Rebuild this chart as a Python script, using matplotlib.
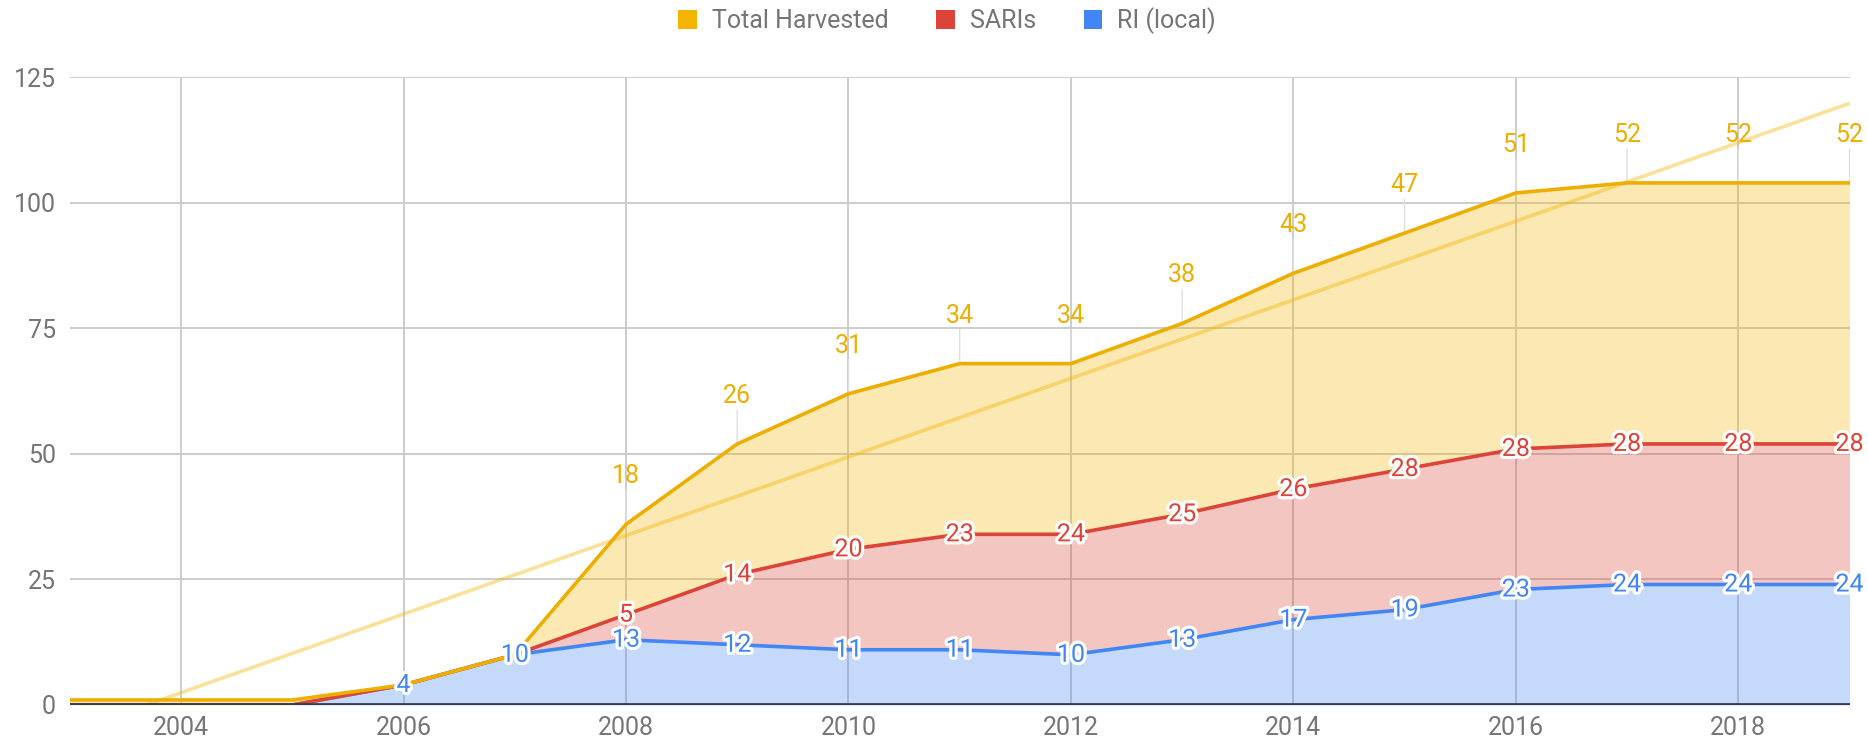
import numpy as np
import matplotlib
matplotlib.use("Agg")
import matplotlib.pyplot as plt
import matplotlib.patheffects as pe
from matplotlib.patches import Patch

plt.rcParams['font.family'] = ['Roboto', 'DejaVu Sans']

years = [2003, 2004, 2005, 2006, 2007, 2008, 2009, 2010, 2011, 2012,
         2013, 2014, 2015, 2016, 2017, 2018, 2019]
ri_local = [0, 0, 0, 4, 10, 13, 12, 11, 11, 10, 13, 17, 19, 23, 24, 24, 24]
saris = [0, 0, 0, 0, 0, 5, 14, 20, 23, 24, 25, 26, 28, 28, 28, 28, 28]
total_harvested = [1, 1, 1, 0, 0, 18, 26, 31, 34, 34, 38, 43, 47, 51, 52, 52, 52]
# which points carry a data label
ri_label_from = 2006
saris_label_from = 2008
total_label_from = 2008

series_names = ["Total Harvested", "SARIs", "RI (local)"]
x_ticks = [2004, 2006, 2008, 2010, 2012, 2014, 2016, 2018]
y_ticks = [0, 25, 50, 75, 100, 125]

BLUE = "#4285F4"
RED = "#DB4437"
YELLOW = "#F4B400"
YELLOW_LINE = "#EDAE00"
GRAY_TXT = "#757575"
FS = 18

x = np.array(years, dtype=float)
b = np.array(ri_local, dtype=float)
r = b + np.array(saris, dtype=float)
t = r + np.array(total_harvested, dtype=float)

fig = plt.figure(figsize=(18.68, 7.45), dpi=100)
ax = fig.add_axes([0.0374, 0.0537, 0.9527, 0.8423])
ax.set_xlim(2003, 2019)
ax.set_ylim(0, 125)

for s in ax.spines.values():
    s.set_visible(False)
ax.set_xticks(x_ticks)
ax.set_xticklabels([str(v) for v in x_ticks])
ax.set_yticks(y_ticks)
ax.tick_params(length=0, labelsize=FS, colors=GRAY_TXT)
ax.tick_params(axis='x', pad=8)
ax.tick_params(axis='y', pad=10)
ax.grid(True, color="#cccccc", linewidth=1.4, zorder=0)
ax.set_axisbelow(True)

# areas
ax.fill_between(x, 0, b, color=BLUE, alpha=0.3, linewidth=0, zorder=1)
ax.fill_between(x, b, r, color=RED, alpha=0.3, linewidth=0, zorder=1)
ax.fill_between(x, r, t, color=YELLOW, alpha=0.3, linewidth=0, zorder=1)

# trendline (linear fit of the stacked top series)
k, c0 = np.polyfit(x, t, 1)
xt = np.array([2003, 2019], dtype=float)
ax.plot(xt, k * xt + c0, color=YELLOW, alpha=0.4, linewidth=2.6, zorder=2,
        solid_capstyle='butt')

# lines
ax.plot(x, b, color=BLUE, linewidth=2.6, zorder=4, solid_joinstyle='round')
ax.plot(x, r, color=RED, linewidth=2.6, zorder=5, solid_joinstyle='round')
# baseline
ax.axhline(0, color="#333b4d", linewidth=2.7, zorder=5.5)
ax.plot(x, t, color=YELLOW_LINE, linewidth=2.6, zorder=6, solid_joinstyle='round')

halo = [pe.withStroke(linewidth=4.5, foreground="white")]

# yellow labels above points with stems
for xi, ti, v in zip(years, t, total_harvested):
    if xi >= total_label_from:
        ax.annotate(str(v), xy=(xi, ti), xytext=(0, 48), textcoords='offset pixels',
                    ha='center', va='center', fontsize=FS, color="#EDAE00",
                    zorder=8)
        ax.annotate("", xy=(xi, ti), xytext=(0, 34), textcoords='offset pixels',
                    arrowprops=dict(arrowstyle='-', color="#e0e0e0", lw=1.0,
                                    shrinkA=0, shrinkB=0), zorder=1.5)

for xi, ri, v in zip(years, r, saris):
    if xi >= saris_label_from:
        ax.text(xi, ri, str(v), ha='center', va='center', fontsize=FS,
                color=RED, path_effects=halo, zorder=9)

for xi, bi, v in zip(years, b, ri_local):
    if xi >= ri_label_from:
        ax.text(xi, bi, str(v), ha='center', va='center', fontsize=FS,
                color=BLUE, path_effects=halo, zorder=10)

handles = [Patch(facecolor=YELLOW, edgecolor='none'),
           Patch(facecolor=RED, edgecolor='none'),
           Patch(facecolor=BLUE, edgecolor='none')]
leg = fig.legend(handles, series_names, loc='center', bbox_to_anchor=(0.507, 0.972),
                 ncol=3, frameon=False, fontsize=FS, handlelength=0.75,
                 handleheight=0.75, handletextpad=0.6, columnspacing=1.9)
for txt in leg.get_texts():
    txt.set_color(GRAY_TXT)

fig.savefig("out.png", dpi=100)
